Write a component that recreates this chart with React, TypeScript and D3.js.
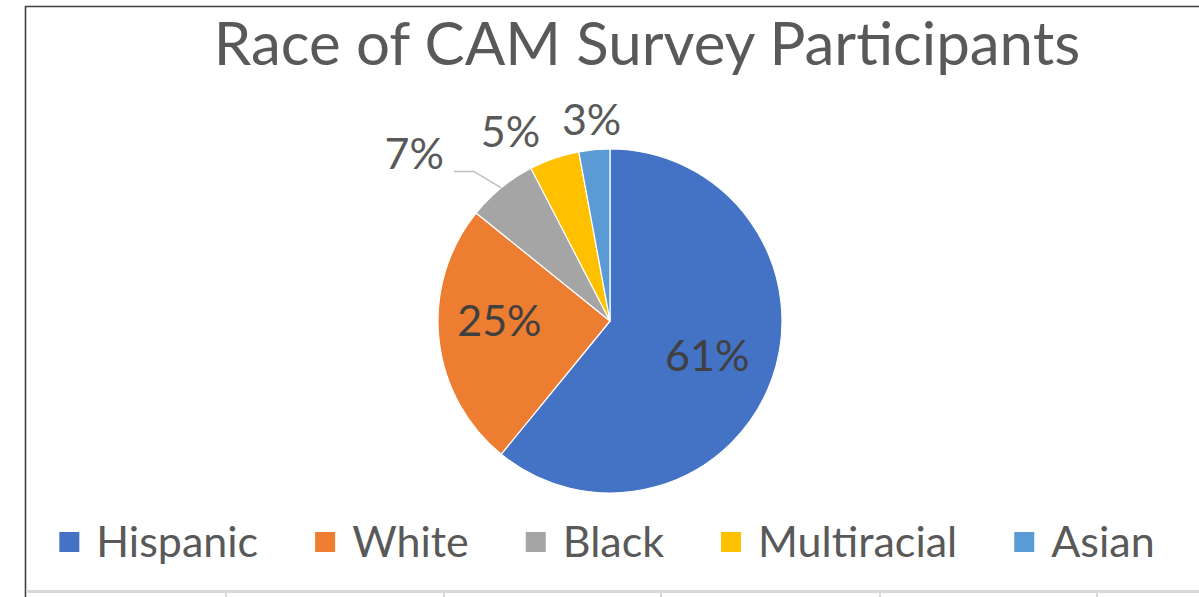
import React, { useEffect, useRef } from "react";
import * as d3 from "d3";

const categories = ["Hispanic", "White", "Black", "Multiracial", "Asian"];
const shares = [60.9, 24.9, 6.6, 4.7, 2.9];
const colors = ["#4472C4", "#ED7D31", "#A5A5A5", "#FFC000", "#5B9BD5"];
const insideLabel = [true, true, false, false, false];
const titleText = "Race of CAM Survey Participants";
const gridTicks = [226, 444, 661, 880, 1097];

const W = 1199;
const H = 597;
const CX = 610;
const CY = 321;
const R = 172;
// nudges for labels (collision avoidance / best-fit placement as in the original)
const labelNudge: Record<string, [number, number]> = {
  White: [-8, -11],
  Black: [-68, -11],
  Multiracial: [-34, 2],
};

export default function App() {
  const ref = useRef<SVGSVGElement | null>(null);

  useEffect(() => {
    const svg = d3.select(ref.current);
    svg.selectAll("*").remove();

    svg.append("rect").attr("width", W).attr("height", H).attr("fill", "#ffffff");

    // frame lines
    svg.append("line").attr("x1", 25).attr("x2", W).attr("y1", 6.5).attr("y2", 6.5)
      .attr("stroke", "#404040").attr("stroke-width", 1.6);
    svg.append("line").attr("x1", 25.5).attr("x2", 25.5).attr("y1", 6).attr("y2", H)
      .attr("stroke", "#404040").attr("stroke-width", 1.6);
    // sheet gridline at bottom
    svg.append("rect").attr("x", 26).attr("y", 590).attr("width", W - 26).attr("height", 3)
      .attr("fill", "#d9d9d9");
    svg.selectAll("rect.tick").data(gridTicks).join("rect").attr("class", "tick")
      .attr("x", (d) => d - 1).attr("y", 590).attr("width", 2).attr("height", 7)
      .attr("fill", "#d9d9d9");

    // title
    svg.append("text").attr("x", 647).attr("y", 65).attr("text-anchor", "middle")
      .attr("font-family", "Lato, 'Open Sans', sans-serif").attr("font-size", 60)
      .attr("fill", "#595959").text(titleText);

    const data = categories.map((c, i) => ({ c, v: shares[i], color: colors[i], inside: insideLabel[i] }));
    const pie = d3.pie<any>().sort(null).value((d) => d.v);
    const arcs = pie(data);
    const arc = d3.arc<any>().innerRadius(0).outerRadius(R);
    const g = svg.append("g").attr("transform", `translate(${CX},${CY})`);

    g.selectAll("path").data(arcs).join("path")
      .attr("d", arc as any)
      .attr("fill", (d: any) => d.data.color)
      .attr("stroke", "#ffffff").attr("stroke-width", 1.2).attr("stroke-linejoin", "round");

    const fmt = (v: number) => `${Math.round(v)}%`;
    const labelArc = d3.arc<any>().innerRadius(R * 0.6).outerRadius(R * 0.6);
    const outArc = d3.arc<any>().innerRadius(R * 1.175).outerRadius(R * 1.175);
    const edgeArc = d3.arc<any>().innerRadius(R).outerRadius(R);

    arcs.forEach((a: any) => {
      const n = labelNudge[a.data.c] || [0, 0];
      if (a.data.inside) {
        const [cx0, cy0] = labelArc.centroid(a);
        g.append("text").attr("x", cx0 + n[0]).attr("y", cy0 + n[1]).attr("dy", "0.36em")
          .attr("text-anchor", "middle").attr("font-family", "Lato, sans-serif")
          .attr("font-size", 43).attr("fill", "#404040").text(fmt(a.data.v));
      } else {
        const [ox, oy] = outArc.centroid(a);
        const x = ox + n[0];
        const y = oy + n[1];
        const t = g.append("text").attr("x", x).attr("y", y).attr("dy", "0.36em")
          .attr("text-anchor", "middle").attr("font-family", "Lato, sans-serif")
          .attr("font-size", 43).attr("fill", "#595959").text(fmt(a.data.v));
        const dist = Math.hypot(n[0], n[1]);
        if (dist > 40) {
          const tw = (t.node() as SVGTextElement).getComputedTextLength();
          const [ex, ey] = edgeArc.centroid(a);
          const sx = x + tw / 2 + 10;
          const sy = y + 18;
          g.append("path")
            .attr("d", `M${sx},${sy}L${sx + 20},${sy}L${ex},${ey}`)
            .attr("fill", "none").attr("stroke", "#bfbfbf").attr("stroke-width", 1.5);
        }
      }
    });

    // legend
    const lg = svg.append("g");
    const items = lg.selectAll("g").data(data).join("g");
    items.append("rect").attr("width", 20).attr("height", 20).attr("y", 532)
      .attr("fill", (d: any) => d.color);
    const texts = items.append("text").attr("y", 557).attr("x", 37)
      .attr("font-family", "Lato, sans-serif").attr("font-size", 43).attr("fill", "#595959")
      .text((d: any) => d.c);
    const widths: number[] = [];
    texts.each(function () {
      widths.push((this as SVGTextElement).getComputedTextLength());
    });
    const gap = 57;
    const itemW = widths.map((w) => 37 + w);
    const total = d3.sum(itemW) + gap * (itemW.length - 1);
    let x0 = 607 - total / 2;
    items.attr("transform", (_d: any, i: number) => {
      const x = x0;
      x0 += itemW[i] + gap;
      return `translate(${x},0)`;
    });
  }, []);

  return (
    <svg ref={ref} width={W} height={H} style={{ position: "absolute", left: 0, top: 0, display: "block" }} />
  );
}
